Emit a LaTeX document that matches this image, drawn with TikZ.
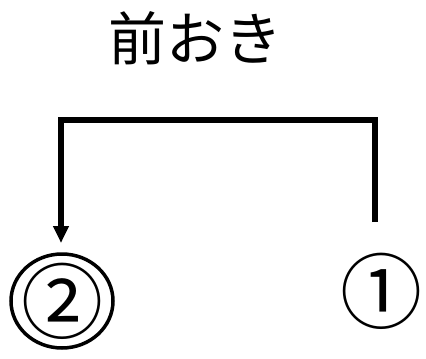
\documentclass[tikz,border=0pt]{standalone}
\usepackage{fontspec}
\newfontfamily\jp{Noto Sans CJK JP}
\usetikzlibrary{arrows.meta}
\begin{document}
\begin{tikzpicture}[x=1pt,y=-1pt,
  conn/.style={line width=5.5pt,line join=miter,-{Triangle[width=15pt,length=17pt]}},
  num/.style={inner sep=0pt,font=\jp\fontsize{82}{82}\selectfont}]
\useasboundingbox (0,0) rectangle (426,359);
\node[inner sep=0pt,font=\jp\fontsize{58}{58}\selectfont] (title) at (195,38) {前おき};
\node[num] (c1) at (381,291) {①};
\node[num] (c2) at (62,301) {②};
\draw[line width=3.5pt] (c2.center) ellipse [x radius=51, y radius=47];
\coordinate (s) at (375,222);
\coordinate (e) at (61,243);
\draw[conn] (s) -- (375,120) -- (61,120) -- (e);
\end{tikzpicture}
\end{document}
